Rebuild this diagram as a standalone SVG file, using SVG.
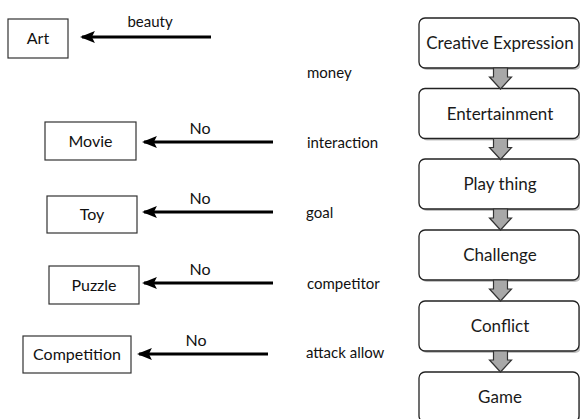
<svg xmlns="http://www.w3.org/2000/svg" width="580" height="419" viewBox="0 0 580 419">
  <style>
    .box { fill: #ffffff; stroke: #333333; stroke-width: 1.2; }
    .lbl { font-family: Lato, "Liberation Sans", sans-serif; font-size: 16px; fill: #111111; text-anchor: middle; }
    .attr { font-family: Lato, "Liberation Sans", sans-serif; font-size: 15px; fill: #111111; }
    .no { font-family: Lato, "Liberation Sans", sans-serif; font-size: 16px; fill: #111111; text-anchor: middle; }
    .stage { fill: #ffffff; stroke: #222222; stroke-width: 1.3; }
    .shadow { fill: #9a9a9a; opacity: 0.6; }
    .stxt { font-family: Lato, "Liberation Sans", sans-serif; font-size: 17px; fill: #1a1a1a; text-anchor: middle; }
    .edge { stroke: #000000; stroke-width: 3; fill: none; marker-end: url(#head); }
    .down { fill: #a8a8a8; stroke: #333333; stroke-width: 1.2; stroke-linejoin: miter; }
  </style>
  <defs>
    <marker id="head" markerWidth="5" markerHeight="4" refX="4.3" refY="2" orient="auto" markerUnits="strokeWidth">
      <path d="M0,0 L5,2 L0,4 L1,2 Z" fill="#000000"/>
    </marker>
    <path id="downArrow" d="M-7,0 L7,0 L7,9 L11,9 L0,21 L-11,9 L-7,9 Z"/>
  </defs>

  <!-- left-hand categories -->
  <g id="art">
    <rect class="box" x="8" y="19" width="60" height="39"/>
    <text class="lbl" x="38" y="44">Art</text>
  </g>
  <g id="movie">
    <rect class="box" x="45" y="122" width="91" height="38"/>
    <text class="lbl" x="90.5" y="146.5">Movie</text>
  </g>
  <g id="toy">
    <rect class="box" x="47" y="196" width="90" height="37"/>
    <text class="lbl" x="92" y="220">Toy</text>
  </g>
  <g id="puzzle">
    <rect class="box" x="49" y="266" width="90" height="38"/>
    <text class="lbl" x="94" y="290.5">Puzzle</text>
  </g>
  <g id="competition">
    <rect class="box" x="23" y="336" width="108" height="37"/>
    <text class="lbl" x="77" y="360">Competition</text>
  </g>

  <!-- attribute labels -->
  <g id="attributes">
    <text class="attr" x="307" y="78">money</text>
    <text class="attr" x="307" y="148">interaction</text>
    <text class="attr" x="306" y="218">goal</text>
    <text class="attr" x="307" y="289">competitor</text>
    <text class="attr" x="306" y="358">attack allow</text>
  </g>

  <!-- stage chain -->
  <g id="creative-expression">
    <rect class="shadow" x="421" y="20" width="160" height="50" rx="6"/>
    <rect class="stage" x="419" y="18" width="160" height="50" rx="6"/>
    <text class="stxt" x="500" y="49">Creative Expression</text>
  </g>
  <g id="entertainment">
    <rect class="shadow" x="421" y="90.5" width="160" height="50" rx="6"/>
    <rect class="stage" x="419" y="88.5" width="160" height="50" rx="6"/>
    <text class="stxt" x="500" y="119.5">Entertainment</text>
  </g>
  <g id="play-thing">
    <rect class="shadow" x="421" y="161" width="160" height="50" rx="6"/>
    <rect class="stage" x="419" y="159" width="160" height="50" rx="6"/>
    <text class="stxt" x="500" y="190">Play thing</text>
  </g>
  <g id="challenge">
    <rect class="shadow" x="421" y="232" width="160" height="50" rx="6"/>
    <rect class="stage" x="419" y="230" width="160" height="50" rx="6"/>
    <text class="stxt" x="500" y="261">Challenge</text>
  </g>
  <g id="conflict">
    <rect class="shadow" x="421" y="303" width="160" height="50" rx="6"/>
    <rect class="stage" x="419" y="301" width="160" height="50" rx="6"/>
    <text class="stxt" x="500" y="332">Conflict</text>
  </g>
  <g id="game">
    <rect class="shadow" x="421" y="374" width="160" height="50" rx="6"/>
    <rect class="stage" x="419" y="372" width="160" height="50" rx="6"/>
    <text class="stxt" x="500" y="403">Game</text>
  </g>

  <!-- connectors -->
  <g id="connectors">
    <line class="edge" x1="211" y1="37" x2="82" y2="37"/>
    <line class="edge" x1="273" y1="142" x2="144" y2="142"/>
    <line class="edge" x1="273" y1="212" x2="144" y2="212"/>
    <line class="edge" x1="273" y1="283" x2="144" y2="283"/>
    <line class="edge" x1="268" y1="354" x2="139" y2="354"/>
    <text class="attr" x="150" y="27" text-anchor="middle">beauty</text>
    <text class="no" x="200" y="134">No</text>
    <text class="no" x="200" y="204">No</text>
    <text class="no" x="200" y="275">No</text>
    <text class="no" x="196" y="346">No</text>
    <use class="down" href="#downArrow" x="500.5" y="68"/>
    <use class="down" href="#downArrow" x="500.5" y="138.5"/>
    <use class="down" href="#downArrow" x="500.5" y="209"/>
    <use class="down" href="#downArrow" x="500.5" y="280"/>
    <use class="down" href="#downArrow" x="500.5" y="351"/>
  </g>
</svg>
